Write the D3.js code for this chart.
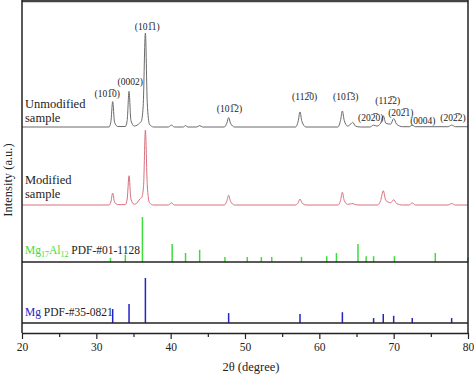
<!DOCTYPE html>
<html>
<head>
<meta charset="utf-8">
<script src="https://cdn.jsdelivr.net/npm/d3@7"></script>
<style>
  html, body { margin: 0; padding: 0; background: #fff; }
  svg { display: block; }
  text { font-family: "Liberation Serif", "Times New Roman", serif; }
</style>
</head>
<body>
<svg id="chart" width="474" height="375"></svg>
<script>
// ---------------- DATA ----------------
// Measured XRD patterns: [2theta, relative intensity (0-100)]
const unmodified = [
  [20,0],[31.7,0],[31.95,5],[32.2,27],[32.45,5],[32.9,0.5],[33.9,0.5],[34.15,7],[34.4,38],[34.65,7],
  [35.1,1],[35.5,2],[35.8,4],[36.05,6],[36.3,22],[36.6,100],[36.85,26],[37.15,3],[37.7,0],
  [39.7,0],[40.1,2],[40.5,0],[41.7,0],[42.0,1.5],[42.3,0],[43.5,0],[43.9,1.5],[44.3,0],
  [47.2,0],[47.55,4],[47.8,10],[48.05,4],[48.6,0],
  [56.8,0],[57.15,6],[57.4,16],[57.65,6],[58.2,0],
  [62.5,0],[62.85,7],[63.1,17],[63.35,7],[63.8,1],[64.2,3],[64.5,5],[64.85,1],[65.5,0],
  [66.8,0],[67.3,2],[67.75,1],[68.25,4],[68.6,12],[68.95,4],[69.6,3],[70.0,9],[70.4,3],[71.2,0.3],
  [72.1,0.3],[72.5,2],[72.9,0.3],[77.3,0.3],[77.8,2],[78.3,0.3],[80,0.3]
];
const modified = [
  [20,0],[31.7,0],[31.95,4],[32.2,16],[32.45,4],[32.9,0.5],[33.9,0.5],[34.15,8],[34.4,39],[34.65,8],
  [35.1,1],[35.5,3],[35.85,8],[36.1,10],[36.35,25],[36.6,100],[36.85,27],[37.15,3],[37.7,0],
  [39.7,0],[40.1,3],[40.5,0],
  [47.2,0],[47.55,5],[47.8,13],[48.05,5],[48.6,0],
  [56.8,0],[57.15,3],[57.4,8],[57.65,3],[58.2,0],
  [62.5,0],[62.85,6],[63.1,17],[63.35,6],[63.8,1],[64.2,1.5],[64.5,2],[64.85,0.5],[65.5,0],
  [67.8,0],[68.25,6],[68.6,19],[68.95,6],[69.6,3],[70.0,7],[70.4,2],[71.2,0],
  [72.1,0],[72.5,3],[72.9,0],[77.3,0],[77.8,2],[78.3,0],[80,0]
];
// Reference cards: [2theta, relative intensity]
const mg17al12Card = [
  [31.9,9],[33.9,16],[36.2,100],[40.2,40],[42.0,20],[43.9,27],[47.3,11],[50.3,11],[52.2,11],
  [53.6,11],[57.6,11],[61.0,13],[62.3,20],[65.2,40],[66.3,13],[67.3,13],[70.1,13],[75.6,20],[80.0,9]
];
const mgCard = [
  [32.2,31],[34.4,42],[36.6,100],[47.8,22],[57.4,20],[63.1,24],[67.3,11],[68.6,20],[70.0,16],[72.5,11],[77.8,11]
];
// Peak (hkil) labels and the 2theta they are centred on
const peakLabels = ["(101\u03050)","(0002)","(101\u03051)","(101\u03052)","(112\u03050)","(101\u03053)",
                    "(202\u03050)","(112\u03052)","(202\u03051)","(0004)","(202\u03052)"];
const peakLabelPos = [31.46,34.56,36.85,47.91,58.02,63.55,66.92,69.21,70.97,73.93,77.98];
const xTicks = [20,30,40,50,60,70,80];
const xMinorTicks = [25,35,45,55,65,75];

// ---------------- LAYOUT ----------------
const svg = d3.select("#chart");
const L = 22, R = 468, T = 1, B = 333;
const x = d3.scaleLinear().domain([20, 80]).range([L, R]);
const yUn  = d3.scaleLinear().domain([0, 100]).range([127, 33]);
const yMod = d3.scaleLinear().domain([0, 100]).range([205, 130]);
const yAl  = d3.scaleLinear().domain([0, 100]).range([262, 217]);
const yMg  = d3.scaleLinear().domain([0, 100]).range([323, 278]);

const line = (ys) => d3.line().x(d => x(d[0])).y(d => ys(d[1])).curve(d3.curveMonotoneX);

// curves
svg.append("path").attr("d", line(yUn)(unmodified))
  .attr("fill","none").attr("stroke","#6a6a6a").attr("stroke-width",1);
svg.append("path").attr("d", line(yMod)(modified))
  .attr("fill","none").attr("stroke","#d8707f").attr("stroke-width",1);

// sticks
svg.selectAll(".al").data(mg17al12Card).enter().append("line")
  .attr("x1", d => x(d[0])).attr("x2", d => x(d[0]))
  .attr("y1", yAl(0)).attr("y2", d => yAl(d[1]))
  .attr("stroke","#3fdc3f").attr("stroke-width",1.5);
svg.selectAll(".mg").data(mgCard).enter().append("line")
  .attr("x1", d => x(d[0])).attr("x2", d => x(d[0]))
  .attr("y1", yMg(0)).attr("y2", d => yMg(d[1]))
  .attr("stroke","#2323c8").attr("stroke-width",1.5);

// baselines of the reference panels
[yAl(0), yMg(0)].forEach(yy => {
  svg.append("line").attr("x1", L).attr("x2", R).attr("y1", yy).attr("y2", yy)
    .attr("stroke","#222").attr("stroke-width",1.3);
});

// frame
svg.append("line").attr("x1", L).attr("x2", R).attr("y1", T).attr("y2", T)
  .attr("stroke","#444").attr("stroke-width",2.5);
svg.append("line").attr("x1", L).attr("x2", L).attr("y1", 0).attr("y2", B)
  .attr("stroke","#222").attr("stroke-width",1.5);
svg.append("line").attr("x1", R).attr("x2", R).attr("y1", 0).attr("y2", B)
  .attr("stroke","#222").attr("stroke-width",1.5);

// x axis
const xAxis = d3.axisBottom(x).tickValues(xTicks).tickSize(6).tickSizeOuter(0).tickPadding(4)
  .tickFormat(d3.format("d"));
const gx = svg.append("g").attr("transform", `translate(0,${B})`).call(xAxis);
gx.attr("font-family", null);
gx.select(".domain").attr("stroke","#222").attr("stroke-width",1.5);
gx.selectAll(".tick line").attr("stroke","#222").attr("stroke-width",1.2);
gx.selectAll(".tick text").attr("font-size",11.5).attr("fill","#222");
const gxm = svg.append("g").attr("transform", `translate(0,${B})`)
  .call(d3.axisBottom(x).tickValues(xMinorTicks).tickSize(4).tickFormat(""));
gxm.select(".domain").remove();
gxm.selectAll(".tick line").attr("stroke","#222").attr("stroke-width",1.2);

// axis titles
svg.append("text").attr("x", 251).attr("y", 371).attr("text-anchor","middle")
  .attr("font-size",12.5).attr("fill","#222").text("2θ (degree)");
svg.append("text").attr("transform","translate(12,180) rotate(-90)").attr("text-anchor","middle")
  .attr("font-size",12.5).attr("fill","#222").text("Intensity (a.u.)");

// peak labels
const labelY = [97,85,30,112,100,100,121,104,116,124,121];
svg.selectAll(".pl").data(peakLabels).enter().append("text")
  .attr("x", (d,i) => x(peakLabelPos[i])).attr("y", (d,i) => labelY[i])
  .attr("text-anchor","middle").attr("font-size",9.5).attr("fill","#222").text(d => d);

// sample labels (two lines)
function twoLine(a, b, yy) {
  const t = svg.append("text").attr("x",25).attr("y",yy).attr("font-size",12.5).attr("fill","#222");
  t.append("tspan").attr("x",25).text(a);
  t.append("tspan").attr("x",25).attr("dy",13.5).text(b);
}
twoLine("Unmodified","sample",108);
twoLine("Modified","sample",184);

const t1 = svg.append("text").attr("x",25).attr("y",254).attr("font-size",11.5).attr("fill","#222");
t1.append("tspan").attr("fill","#3fdc3f").text("Mg");
t1.append("tspan").attr("fill","#3fdc3f").attr("font-size",8).attr("dy",3).text("17");
t1.append("tspan").attr("fill","#3fdc3f").attr("dy",-3).text("Al");
t1.append("tspan").attr("fill","#3fdc3f").attr("font-size",8).attr("dy",3).text("12");
t1.append("tspan").attr("dy",-3).text(" PDF-#01-1128");

const t2 = svg.append("text").attr("x",25).attr("y",316).attr("font-size",11.5).attr("fill","#222");
t2.append("tspan").attr("fill","#2323c8").text("Mg");
t2.append("tspan").text(" PDF-#35-0821");
</script>
</body>
</html>
